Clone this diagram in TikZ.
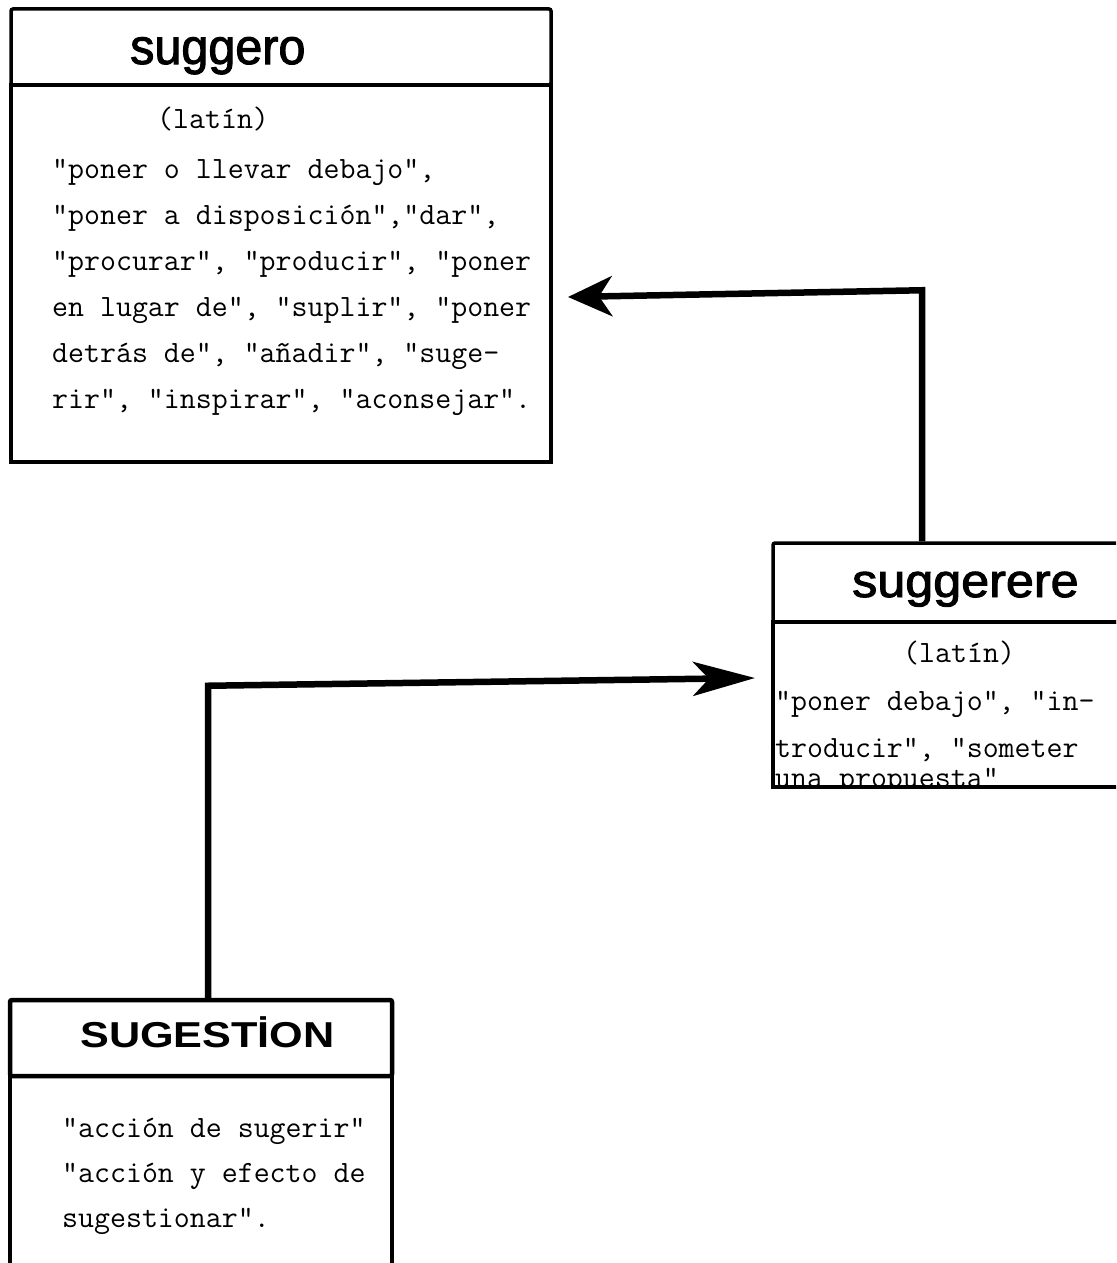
\documentclass[tikz,border=0pt]{standalone}
\usepackage{fontspec}
\setsansfont{Liberation Sans}
\usetikzlibrary{arrows.meta}

\begin{document}
\begin{tikzpicture}[x=1pt, y=-1pt,
    wordhead/.style={rectangle, draw, line width=3.5pt, rounded corners=2pt, inner sep=0pt},
    wordbody/.style={rectangle, draw, line width=3.5pt, inner sep=0pt},
    title/.style={anchor=base west, inner sep=0pt},
    gloss/.style={anchor=base west, inner sep=0pt, font=\fontsize{31}{46}\selectfont\ttfamily\addfontfeature{FakeBold=5}},
    arrow/.style={line width=6.5pt, line join=miter, -{Stealth[length=44pt, width=40pt, inset=13pt]}},
    longarrow/.style={line width=6.5pt, line join=miter, -{Stealth[length=62pt, width=34pt, inset=16pt]}}
  ]
  \useasboundingbox (0,0) rectangle (1116,1263);
  \clip (0,0) rectangle (1116,1263);

  % suggero (top left)
  \node[wordhead, minimum width=540pt, minimum height=76pt] (suggeroHead) at (281,47) {};
  \node[wordbody, minimum width=540pt, minimum height=377pt] (suggeroBody) at (281,273.5) {};
  \node[title] (suggeroTitle) at (130,64) {\fontsize{50}{50}\selectfont\sffamily\addfontfeature{FakeBold=2}\scalebox{0.97}[1]{suggero}};
  \node[gloss] (suggeroLatin) at (157,128) {(latín)};
  \foreach \txt [count=\i] in {{"poner o llevar debajo",},
      {"poner a disposición","dar",},
      {"procurar", "producir", "poner},
      {en lugar de", "suplir", "poner},
      {detrás de", "añadir", "suge-},
      {rir", "inspirar", "aconsejar".}}
    \node[gloss] (suggeroLine\i) at (52,132+46*\i) {\txt};

  % suggerere (right)
  \node[wordhead, minimum width=349pt, minimum height=79pt] (suggerereHead) at (947.5,582.5) {};
  \node[wordbody, minimum width=349pt, minimum height=165pt] (suggerereBody) at (947.5,704.5) {};
  \node[title] (suggerereTitle) at (852,597) {\fontsize{47}{47}\selectfont\sffamily\addfontfeature{FakeBold=2}\scalebox{1.07}[1]{suggerere}};
  \node[gloss] (suggerereLatin) at (903,662) {(latín)};
  \node[gloss] (suggerereLine1) at (775,710) {"poner debajo", "in-};
  \node[gloss] (suggerereLine2) at (775,757) {troducir", "someter};
  \begin{scope}
    \clip (770,740) rectangle (1116,785);
    \node[gloss] (suggerereLine3) at (775,787) {una propuesta"};
  \end{scope}

  % SUGESTION (bottom left)
  \node[wordhead, line width=4.5pt, minimum width=382pt, minimum height=76pt] (sugestionHead) at (201,1038) {};
  \node[wordbody, line width=4.5pt, minimum width=382pt, minimum height=214pt] (sugestionBody) at (201,1183) {};
  \node[title] (sugestionTitle) at (80,1047) {\fontsize{36}{36}\selectfont\sffamily\bfseries\scalebox{1.2}[1]{SUGESTİON}};
  \foreach \txt [count=\i] in {{"acción de sugerir"},
      {"acción y efecto de},
      {sugestionar".}}
    \node[gloss] (sugestionLine\i) at (62,1092+45*\i) {\txt};

  % arrows
  \coordinate (tipSuggero) at (568,297);
  \coordinate (tipSuggerere) at (755,678);
  \draw[arrow] ([xshift=-25.5pt]suggerereHead.north) -- ++(0,-251) -- (tipSuggero);
  \draw[longarrow] ([xshift=7pt]sugestionHead.north) -- ++(0,-312) -- (tipSuggerere);
\end{tikzpicture}
\end{document}
